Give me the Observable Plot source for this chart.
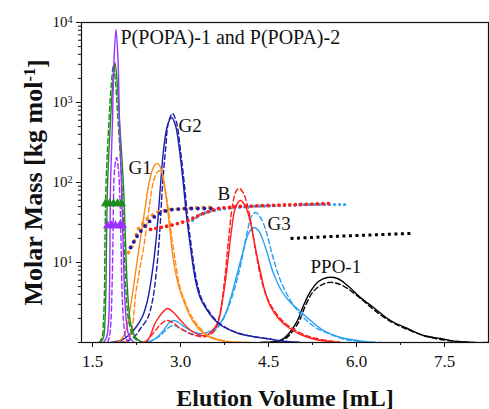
<!DOCTYPE html>
<html><head><meta charset="utf-8">
<script src="https://cdn.jsdelivr.net/npm/d3@7"></script>
<script src="https://cdn.jsdelivr.net/npm/@observablehq/plot@0.6"></script>
<style>html,body{margin:0;padding:0;background:#fff;} #chart svg{display:block;} #chart svg text{font-family:'Liberation Serif','Times New Roman',serif !important;}</style>
</head><body><div id="chart"></div>
<script>
// ---- Data: elution volume (mL) and molar mass (kg/mol) ----
const purpleSolidV = [1.687,1.739,1.773,1.790,1.798,1.807,1.841,1.866,1.901,1.935,1.960,1.994,2.020,2.045,2.080,2.131,2.216];
const purpleSolidM = [1,1.155,1.778,4.467,18.84,91.73,595.7,3350,8175,3350,595.7,91.73,18.84,4.467,1.778,1.155,1];
const purpleDashV = [1.756,1.790,1.815,1.832,1.849,1.858,1.875,1.909,1.943,1.969,1.986,2.003,2.028,2.062,2.114];
const purpleDashM = [1,1.189,1.884,4.467,18.84,59.57,141.3,205.4,141.3,59.57,18.84,4.467,1.884,1.189,1];
const greenSolidV = [1.636,1.687,1.713,1.730,1.739,1.756,1.807,1.849,1.884,1.918,1.960,2.028,2.062,2.097,2.148,2.233,2.352];
const greenSolidM = [1,1.155,1.884,5.158,18.84,91.73,595.7,1884,3162,1884,595.7,91.73,18.84,4.467,1.778,1.155,1];
const greenDashV = [1.611,1.662,1.687,1.705,1.713,1.730,1.781,1.824,1.858,1.892,1.935,2.003,2.037,2.071,2.122,2.207,2.327];
const greenDashM = [1,1.155,1.884,5.158,18.84,91.73,595.7,1800,2950,1800,595.7,91.73,18.84,4.467,1.778,1.155,1];
const orangeSolidV = [1.841,1.943,2.028,2.080,2.114,2.165,2.233,2.318,2.403,2.455,2.506,2.557,2.608,2.659,2.710,2.761,2.812,2.881,2.966,3.034,3.119,3.204,3.375,3.511,3.767,4.193];
const orangeSolidM = [1,1.029,1.189,1.496,1.995,3.350,7.499,19.95,51.58,91.73,133.4,163.1,173.2,154.0,105.9,59.57,29.02,10.59,5.158,3.652,2.512,1.884,1.334,1.155,1.029,1];
const orangeDashV = [2.011,2.114,2.182,2.233,2.301,2.369,2.437,2.523,2.574,2.642,2.693,2.744,2.795,2.847,2.915,2.983,3.068,3.153,3.256,3.409,3.545,3.818,4.193];
const orangeDashM = [1,1.090,1.631,3.869,7.943,14.96,33.50,91.73,122.3,141.3,125.9,79.43,44.67,21.75,10.0,5.158,3.350,2.371,1.778,1.334,1.155,1.029,1];
const navySolidV = [1.807,1.977,2.114,2.250,2.352,2.437,2.523,2.591,2.659,2.710,2.778,2.847,2.915,2.983,3.051,3.102,3.170,3.256,3.341,3.426,3.545,3.648,3.818,3.989,4.227,4.449,4.790,5.045];
const navySolidM = [1,1.059,1.223,1.585,2.113,3.350,7.943,21.75,91.73,251.2,517.0,649.4,517.0,251.2,91.73,38.68,15.40,5.957,3.548,2.738,2.054,1.728,1.454,1.296,1.189,1.122,1.029,1];
const navyDashV = [1.943,2.114,2.233,2.318,2.437,2.523,2.591,2.642,2.693,2.744,2.795,2.864,2.932,3.000,3.068,3.119,3.187,3.273,3.358,3.443,3.562,3.665,3.835,4.006,4.244,4.466,4.807,5.045];
const navyDashM = [1,1.059,1.223,1.496,1.995,3.350,7.943,21.75,91.73,251.2,562.3,730.0,562.3,251.2,91.73,38.68,15.40,5.957,3.548,2.738,2.054,1.728,1.454,1.296,1.189,1.122,1.029,1];
const redSolidV = [2.318,2.437,2.574,2.693,2.778,2.881,3.034,3.204,3.426,3.545,3.648,3.716,3.767,3.818,3.869,3.937,4.023,4.108,4.193,4.278,4.364,4.449,4.534,4.670,4.841,5.045,5.301,5.727];
const redSolidM = [1,1.059,1.778,2.371,2.661,2.371,1.778,1.373,1.223,1.413,1.884,3.350,5.957,12.23,25.12,48.70,59.57,50.12,31.62,14.96,7.499,4.098,2.818,1.995,1.540,1.259,1.090,1];
const redDashV = [2.403,2.574,2.659,2.761,2.864,3.000,3.204,3.426,3.580,3.682,3.750,3.818,3.886,3.954,4.006,4.074,4.142,4.210,4.295,4.381,4.483,4.619,4.790,4.994,5.250,5.727];
const redDashM = [1,1.413,1.679,1.884,1.778,1.496,1.259,1.189,1.413,2.512,5.957,18.84,51.58,79.43,84.14,72.85,51.58,29.02,12.23,5.957,3.548,2.371,1.728,1.373,1.155,1];
const skySolidV = [2.403,2.574,2.710,2.795,2.881,2.966,3.085,3.307,3.545,3.682,3.767,3.852,3.937,4.057,4.159,4.244,4.330,4.449,4.585,4.739,4.875,5.045,5.216,5.438,5.727,6.017,6.290];
const skySolidM = [1,1.122,1.413,1.728,1.884,1.778,1.540,1.296,1.413,1.778,2.304,3.548,5.957,12.96,23.06,27.38,25.12,15.40,7.289,4.217,3.162,2.441,1.884,1.413,1.155,1.059,1];
const skyDashV = [2.455,2.659,2.778,2.881,3.000,3.170,3.341,3.545,3.716,3.886,4.023,4.125,4.210,4.278,4.364,4.466,4.568,4.705,4.875,5.080,5.301,5.523,5.812,6.068,6.409];
const skyDashM = [1,1.223,1.496,1.631,1.496,1.296,1.223,1.334,1.884,3.869,9.173,21.75,37.58,42.17,36.52,23.71,12.23,5.957,3.350,2.113,1.540,1.296,1.090,1.029,1];
const blackSolidV = [4.364,4.619,4.756,4.875,4.994,5.097,5.216,5.352,5.506,5.676,5.847,6.068,6.290,6.580,6.869,7.142,7.432,7.722,7.994,8.25];
const blackSolidM = [1,1.029,1.122,1.373,1.884,2.901,4.341,5.788,6.494,6.310,5.158,3.652,2.738,1.884,1.496,1.223,1.122,1.029,1,1];
const blackDashV = [4.398,4.653,4.790,4.909,5.028,5.131,5.250,5.386,5.523,5.676,5.847,6.068,6.290,6.580,6.869,7.142,7.432,7.722,7.994];
const blackDashM = [1,1.029,1.122,1.373,1.884,2.901,4.217,5.158,5.623,5.464,4.732,3.548,2.585,1.830,1.454,1.223,1.090,1.029,1];

// molar mass traces (dotted)
const redDotV = [2.489,2.830,3.136,3.341,3.631,3.971,4.483,5.045,5.557];
const redDotM = [25.94,29.0,33.5,39.81,47.32,50.12,51.58,53.09,54.64];
const skyDotV = [3.204,3.341,3.545,3.767,4.193,4.705,5.216,5.847];
const skyDotM = [33.5,39.81,44.67,47.32,50.12,51.58,53.09,53.09];
const navyDotV = [2.148,2.267,2.369,2.540,2.693,2.864,3.085,3.307,3.545];
const navyDotM = [15.40,21.75,27.38,36.52,43.40,45.97,47.32,47.32,47.32];
const orangeDotV = [2.114,2.199,2.284,2.455,2.625,2.830,3.119,3.341,3.545];
const orangeDotM = [13.34,17.28,26.6,36.52,43.40,45.97,47.32,48.70,48.70];
const blackDotV = [4.875,5.557,6.239,6.920];
const blackDotM = [19.95,21.13,22.07,23.06];

// triangle markers
const greenTriV = [1.722,1.790,1.858,1.926,1.994];
const greenTriM = [54.6,54.6,54.6,54.6,54.6];
const purpleTriV = [1.756,1.824,1.892,1.960,2.011];
const purpleTriM = [29.0,29.0,29.0,29.0,29.0];

// annotations
const annoText = ["P(POPA)-1 and P(POPA)-2","G2","G1","B","G3","PPO-1"];
const annoV = [1.977,2.966,2.114,3.631,4.483,5.216];
const annoM = [5309,421.7,129.5,59.57,25.12,7.289];

// ticks & labels
const xTicks = [1.5,3.0,4.5,6.0,7.5];
const xMinorTicks = [2.25,3.75,5.25,6.75];
const yTicks = [10,100,1000,10000];
const xLabel = "Elution Volume [mL]";
const yLabel = "Molar Mass [kg mol-1]";

// ---- build ----
const FONT = "'Liberation Serif', 'Times New Roman', serif";
const rows = (V, M) => V.map((v, i) => ({v, m: M[i]}));
const PURPLE = "#9b30ff", GREEN = "#1e8c1e", ORANGE = "#ff8a14", NAVY = "#1c1ca8",
      RED = "#ff1c1c", SKY = "#28a0f5", BLACK = "#000";
const DASH = "5,3";

const curves = [
  [blackDashV, blackDashM, BLACK, DASH], [blackSolidV, blackSolidM, BLACK, null],
  [skyDashV, skyDashM, SKY, DASH], [skySolidV, skySolidM, SKY, null],
  [redDashV, redDashM, RED, DASH], [redSolidV, redSolidM, RED, null],
  [navyDashV, navyDashM, NAVY, DASH], [navySolidV, navySolidM, NAVY, null],
  [orangeDashV, orangeDashM, ORANGE, DASH], [orangeSolidV, orangeSolidM, ORANGE, null],
  [greenDashV, greenDashM, GREEN, DASH], [greenSolidV, greenSolidM, GREEN, null],
  [purpleDashV, purpleDashM, PURPLE, DASH], [purpleSolidV, purpleSolidM, PURPLE, null]
];

const marks = [];
for (const [V, M, c, d] of curves) {
  marks.push(Plot.line(rows(V, M), {x: "v", y: "m", stroke: c, strokeWidth: 1.4,
    strokeDasharray: d, curve: "catmull-rom", clip: true}));
}
const dotted = [
  [orangeDotV, orangeDotM, ORANGE, "0,6.5", 3.8, "round"],
  [navyDotV, navyDotM, NAVY, "0,6.5", 3.8, "round"],
  [skyDotV, skyDotM, SKY, "0,5", 3.2, "round"],
  [redDotV, redDotM, RED, "0,5.5", 3.8, "round"],
  [blackDotV, blackDotM, BLACK, "3,3.5", 3, "butt"]
];
for (const [V, M, c, d, w, cap] of dotted) {
  marks.push(Plot.line(rows(V, M), {x: "v", y: "m", stroke: c, strokeWidth: w,
    strokeDasharray: d, strokeLinecap: cap, curve: "linear", clip: true}));
}
marks.push(Plot.line(rows(greenTriV, greenTriM), {x: "v", y: "m", stroke: GREEN, strokeWidth: 1.2}));
marks.push(Plot.dot(rows(greenTriV, greenTriM), {x: "v", y: "m", symbol: "triangle", r: 3.4, fill: GREEN, stroke: "none"}));
marks.push(Plot.line(rows(purpleTriV, purpleTriM), {x: "v", y: "m", stroke: PURPLE, strokeWidth: 1.2}));
marks.push(Plot.dot(rows(purpleTriV, purpleTriM), {x: "v", y: "m", symbol: "triangle", r: 3.4, fill: PURPLE, stroke: "none"}));

// annotations
marks.push(Plot.text(annoText.map((t, i) => ({t, v: annoV[i], m: annoM[i], s: i === 0 ? 20 : 19})),
  {x: "v", y: "m", text: "t", fontSize: "s", textAnchor: "start", lineAnchor: "bottom", fontFamily: FONT, fill: "#111"}));

// axes
marks.push(Plot.axisX({ticks: xTicks, tickFormat: d => d.toFixed(1), tickSize: 5, tickPadding: 7, fontSize: 17, fontFamily: FONT, fontVariant: "normal", label: null}));
marks.push(Plot.axisX({ticks: xMinorTicks, tickFormat: () => "", tickSize: 3, label: null}));
marks.push(Plot.axisY({ticks: yTicks, tickFormat: d => "10^" + Math.round(Math.log10(d)), tickSize: 5, tickPadding: 4, fontSize: 15, fontFamily: FONT, fontVariant: "normal", label: null}));
marks.push(Plot.axisY({tickFormat: () => "", tickSize: 3, label: null}));
// axis titles
marks.push(Plot.text([xLabel], {frameAnchor: "bottom", dy: 63, textAnchor: "middle", lineAnchor: "bottom", fontSize: 24, fontWeight: "bold", fontFamily: FONT, fill: "#111"}));
marks.push(Plot.text([yLabel], {frameAnchor: "left", dx: -40, rotate: -90, textAnchor: "middle", lineAnchor: "bottom", fontSize: 26, fontWeight: "bold", fontFamily: FONT, fill: "#111"}));
marks.push(Plot.frame({stroke: "#111", strokeWidth: 1.2}));

const chart = Plot.plot({
  width: 489, height: 409,
  marginLeft: 81, marginRight: 1, marginTop: 22, marginBottom: 67,
  style: {fontFamily: FONT, fontSize: "17px", color: "#111", background: "#fff"},
  x: {domain: [1.3125, 8.25]},
  y: {type: "log", domain: [1, 10000]},
  marks
});

// superscripts
const NS = "http://www.w3.org/2000/svg";
chart.querySelectorAll("text").forEach(t => {
  t.setAttribute("font-family", FONT);
  const s = t.textContent;
  const m = s.match(/^10\^(\d)$/);
  if (m) {
    t.textContent = "10";
    const sup = document.createElementNS(NS, "tspan");
    sup.setAttribute("dy", "-0.45em");
    sup.setAttribute("font-size", "0.68em");
    sup.textContent = m[1];
    t.appendChild(sup);
  } else if (s === yLabel) {
    t.textContent = "Molar Mass [kg mol";
    const sup = document.createElementNS(NS, "tspan");
    sup.setAttribute("dy", "-0.42em");
    sup.setAttribute("font-size", "0.62em");
    sup.textContent = "-1";
    t.appendChild(sup);
    const rest = document.createElementNS(NS, "tspan");
    rest.setAttribute("dy", "0.42em");
    rest.textContent = "]";
    t.appendChild(rest);
  }
});
document.getElementById("chart").appendChild(chart);
</script>
</body></html>
